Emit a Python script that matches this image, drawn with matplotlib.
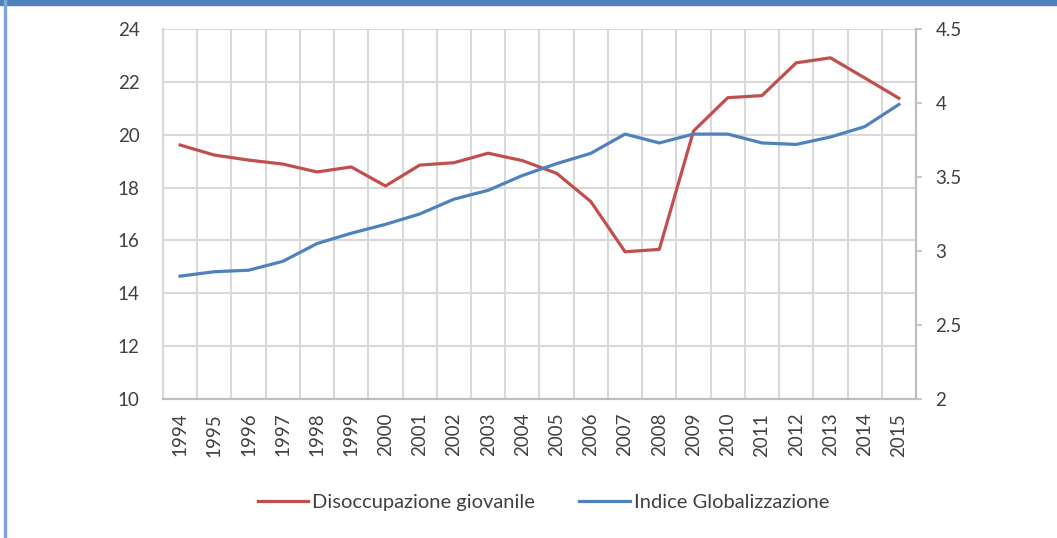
import numpy as np
import matplotlib
matplotlib.use("Agg")
import matplotlib.pyplot as plt
from matplotlib.patches import Rectangle

# Data
years = [str(y) for y in range(1994, 2016)]
disoccupazione = [19.61, 19.23, 19.04, 18.89, 18.59, 18.78, 18.06, 18.85, 18.94, 19.30,
                  19.02, 18.54, 17.47, 15.57, 15.66, 20.14, 21.40, 21.48, 22.72, 22.91,
                  22.15, 21.38]
globalizzazione = [2.83, 2.86, 2.87, 2.93, 3.05, 3.12, 3.18, 3.25, 3.35, 3.41,
                   3.51, 3.59, 3.66, 3.79, 3.73, 3.79, 3.79, 3.73, 3.72, 3.77,
                   3.84, 3.99]
left_ticks = [10, 12, 14, 16, 18, 20, 22, 24]
right_ticks = [2, 2.5, 3, 3.5, 4, 4.5]
right_labels = ["2", "2.5", "3", "3.5", "4", "4.5"]

red = "#c0504d"
blue = "#4f81bd"
grid_c = "#d9d9d9"
text_c = "#404040"
fs = 13.5

plt.rcParams['font.family'] = ['Lato', 'DejaVu Sans']

fig = plt.figure(figsize=(10.57, 5.38), dpi=100)
ax = fig.add_axes([0.1542, 0.2584, 0.7124, 0.6877])
ax2 = ax.twinx()

x = np.arange(len(years))
ax.plot(x, disoccupazione, color=red, lw=2.3, label="Disoccupazione giovanile", zorder=3)
ax2.plot(x, globalizzazione, color=blue, lw=2.3, label="Indice Globalizzazione", zorder=3)

ax.set_xlim(-0.5, len(years) - 0.5)
ax.set_ylim(10, 24)
ax2.set_ylim(2, 4.5)

ax.set_yticks(left_ticks)
ax.set_yticklabels([str(t) for t in left_ticks], fontsize=fs, color=text_c)
ax2.set_yticks(right_ticks)
ax2.set_yticklabels(right_labels, fontsize=fs, color=text_c)

ax.set_xticks(x)
ax.set_xticklabels(years, rotation=90, fontsize=fs, color=text_c)
ax.set_xticks(np.arange(len(years) + 1) - 0.5, minor=True)

ax.tick_params(axis='x', which='both', length=0, pad=10)
ax.tick_params(axis='y', length=0, pad=17)
ax2.tick_params(axis='y', length=4, width=1.2, color="#bfbfbf", pad=10)

ax.grid(True, which='minor', axis='x', color=grid_c, lw=1.5)
ax.grid(True, which='major', axis='y', color=grid_c, lw=1.5)
ax.grid(False, which='major', axis='x')
ax.set_axisbelow(True)

for a in (ax, ax2):
    a.spines['top'].set_visible(False)
    a.spines['left'].set_color(grid_c)
    a.spines['left'].set_linewidth(1.5)
    a.spines['right'].set_color("#bfbfbf")
    a.spines['right'].set_linewidth(1.5)
    a.spines['bottom'].set_color("#bfbfbf")
    a.spines['bottom'].set_linewidth(1.5)

h1, l1 = ax.get_legend_handles_labels()
h2, l2 = ax2.get_legend_handles_labels()
fig.legend(h1 + h2, l1 + l2, loc='center', bbox_to_anchor=(0.514, 0.066), ncol=2,
           frameon=False, fontsize=14.5, handlelength=2.5, handletextpad=0.2,
           columnspacing=2.2, labelcolor=text_c)

# outer frame (blue border at top and left)
fig.patches.append(Rectangle((0, 1 - 5 / 538), 1, 5 / 538, transform=fig.transFigure,
                             color=blue, zorder=10))
fig.patches.append(Rectangle((4 / 1057, 0), 2 / 1057, 1, transform=fig.transFigure,
                             color="#7ea6d8", zorder=10))

fig.savefig("out.png", dpi=100)
